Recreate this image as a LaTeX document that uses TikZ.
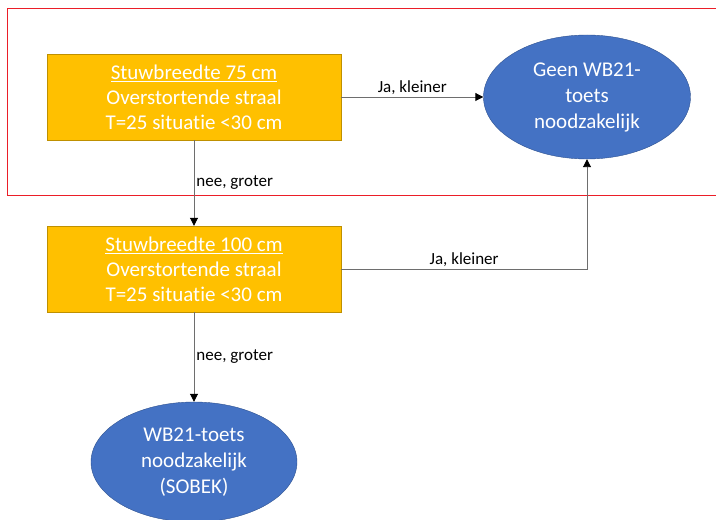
\documentclass[tikz,border=0pt]{standalone}
\usepackage{fontspec}
\setmainfont{Carlito}[RawFeature={-liga;-clig;-calt;-dlig}]
\usepackage{tikz}
\usetikzlibrary{%
    arrows.meta,%
    shapes.geometric%
}
\definecolor{gold}{RGB}{255,192,0}
\definecolor{golddark}{RGB}{191,144,0}
\definecolor{ovalblue}{RGB}{68,114,196}
\definecolor{ovalline}{RGB}{47,82,143}
\definecolor{linegray}{RGB}{110,110,110}
\definecolor{framered}{RGB}{235,30,40}

\begin{document}
\begin{tikzpicture}[
  x=1pt, y=1pt,
  box/.style={draw=golddark, fill=gold, text=white, inner sep=0pt,
    minimum width=294pt, minimum height=86pt, align=center,
    font={\fontsize{21}{25}\selectfont}},
  oval/.style={ellipse, draw=ovalline, fill=ovalblue, text=white, inner sep=0pt,
    minimum width=207pt, minimum height=124pt, align=center,
    font={\fontsize{21}{26}\selectfont}},
  flow/.style={draw=linegray, line width=0.9pt,
    -{Triangle[length=8pt,width=8pt,color=black]}},
  lbl/.style={font={\fontsize{17}{20}\selectfont}, inner sep=2pt},
  ]
  \useasboundingbox (0,0) rectangle (716,520);
  % Red frame round the first step
  \draw[framered, line width=0.9pt] (716,512) -- (7,512) -- (7,325) -- (716,325);

  % Steps
  \node[box] (b75) at (194,423) {\underline{Stuwbreedte 75 cm}\\Overstortende straal\\T=25 situatie <30 cm};
  \node[box] (b100) at (194,251) {\underline{Stuwbreedte 100 cm}\\Overstortende straal\\T=25 situatie <30 cm};

  % Outcomes
  \node[oval] (geen) at (587,423) {Geen WB21-\\toets\\noodzakelijk};
  \node[oval, minimum width=206pt, minimum height=120pt] (sobek) at (194,58) {WB21-toets\\noodzakelijk\\(SOBEK)};

  % Connectors
  \draw[flow] (b75) -- node[lbl, above] {Ja, kleiner} (geen);
  \draw[flow] (b75) -- node[lbl, right] {nee, groter} (b100);
  \draw[flow] (b100) -| node[lbl, above, pos=0.25] {Ja, kleiner} (geen);
  \draw[flow] (b100) -- node[lbl, right] {nee, groter} (sobek);
\end{tikzpicture}
\end{document}
